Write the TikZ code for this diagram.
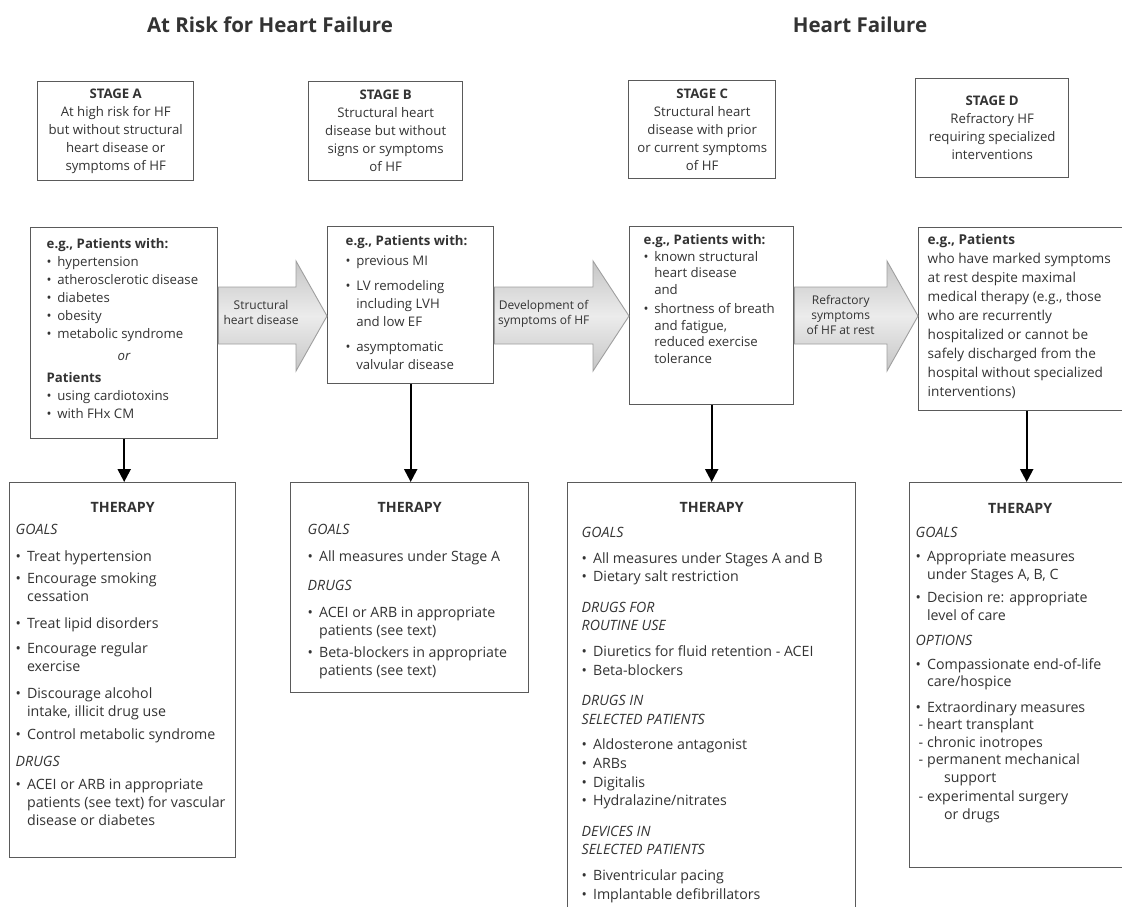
\documentclass[tikz,border=0pt]{standalone}
\usepackage{fontspec}
\setmainfont{Open Sans}
\usetikzlibrary{arrows.meta,calc}
\definecolor{bordergray}{HTML}{5A5A5A}
\definecolor{textgray}{HTML}{333333}
\newcommand{\cbx}[5]{\begin{minipage}[c][#2pt][t]{#1pt}\raggedright\setlength{\leftskip}{#3pt}\setlength{\parindent}{0pt}\vspace*{#4pt}#5\end{minipage}}
\newcommand{\itm}[1]{\par\hangindent=0.8em\hangafter=1\noindent\makebox[0.8em][l]{\textbullet}#1\par}
\newcommand{\dsh}[1]{\par\hangindent=2em\hangafter=1\noindent\hspace*{0.2em}\makebox[0.6em][l]{-}#1\par}
\newcommand{\hdg}[1]{\par\noindent\textit{#1}\par}
\newcommand{\vsp}[1]{\vspace{#1pt}}
\newcommand{\thr}{{\centering\textbf{THERAPY}\par}}
\begin{document}
\begin{tikzpicture}[x=1pt,y=-1pt,
 box/.style={draw=bordergray,line width=1.4pt,inner sep=0pt,anchor=north west,text=textgray},
 stagebox/.style={box,align=center,font=\fontsize{13.2}{18}\selectfont},
 ptxt/.style={font=\fontsize{13.2}{18}\selectfont},
 ttxt/.style={font=\fontsize{14.2}{18}\selectfont},
 title/.style={font=\fontsize{20.5}{22}\selectfont\bfseries,text=textgray},
 blockarrow/.style={draw=gray!75,line width=0.9pt,top color=gray!45,bottom color=gray!45,middle color=gray!15},
 arrlabel/.style={font=\fontsize{12}{15}\selectfont,align=center,text=textgray},
 down/.style={line width=2.2pt,draw=black,-{Triangle[length=13pt,width=13pt]}}
]
\useasboundingbox[fill=white] (0,0) rectangle (1122,907);

% titles
\node[title] (tA) at (270,25) {At Risk for Heart Failure};
\node[title] (tB) at (860,25) {Heart Failure};

% stage boxes
\node[stagebox,minimum width=156pt,minimum height=99pt] (stA) at (37,81)
 {\textbf{STAGE A}\\At high risk for HF\\but without structural\\heart disease or\\symptoms of HF};
\node[stagebox,minimum width=154pt,minimum height=99pt] (stB) at (308,81)
 {\textbf{STAGE B}\\Structural heart\\disease but without\\signs or symptoms\\of HF};
\node[stagebox,minimum width=147pt,minimum height=98pt] (stC) at (628,80)
 {\textbf{STAGE C}\\Structural heart\\disease with prior\\or current symptoms\\of HF};
\node[stagebox,minimum width=153pt,minimum height=99pt] (stD) at (915,78)
 {\textbf{STAGE D}\\Refractory HF\\requiring specialized\\interventions};

% patient boxes
\node[box,ptxt] (patA) at (30,227) {\cbx{187}{211}{16}{11}{%
 \textbf{e.g., Patients with:}
 \itm{hypertension}
 \itm{atherosclerotic disease}
 \itm{diabetes}
 \itm{obesity}
 \itm{metabolic syndrome}
 \vsp{4}{\centering\textit{or}\par}\vsp{4}
 \textbf{Patients}
 \itm{using cardiotoxins}
 \itm{with FHx CM}}};
\node[box,ptxt] (patB) at (327,226) {\cbx{166}{157}{18}{9}{%
 \textbf{e.g., Patients with:}
 \vsp{2}\itm{previous MI}
 \vsp{7}\itm{LV remodeling\newline including LVH\newline and low EF}
 \vsp{7}\itm{asymptomatic\newline valvular disease}}};
\node[box,ptxt] (patC) at (629,226) {\cbx{164}{178}{14}{8}{\fontsize{13.2}{16.5}\selectfont
 \textbf{e.g., Patients with:}
 \itm{known structural\newline heart disease\newline and}
 \vsp{3}\itm{shortness of breath\newline and fatigue,\newline reduced exercise\newline tolerance}}};
\node[box,ptxt] (patD) at (918,227) {\cbx{212}{183}{9}{6}{\fontsize{13.6}{19}\selectfont
 \textbf{e.g., Patients}\\
 who have marked symptoms\\at rest despite maximal\\medical therapy (e.g., those\\who are recurrently\\hospitalized or cannot be\\safely discharged from the\\hospital without specialized\\interventions)}};

% therapy boxes
\node[box,ttxt] (thA) at (9,482) {\cbx{226}{375}{6}{20}{%
 \thr\vsp{4}
 \hdg{GOALS}
 \vsp{9}\itm{Treat hypertension}
 \vsp{4}\itm{Encourage smoking\newline cessation}
 \vsp{9}\itm{Treat lipid disorders}
 \vsp{7}\itm{Encourage regular\newline exercise}
 \vsp{9}\itm{Discourage alcohol\newline intake, illicit drug use}
 \vsp{5}\itm{Control metabolic syndrome}
 \vsp{9}\hdg{DRUGS}
 \vsp{5}\itm{ACEI or ARB in appropriate\newline patients (see text) for vascular\newline disease or diabetes}}};
\node[box,ttxt] (thB) at (290,482) {\cbx{238}{210}{17}{20}{%
 \thr\vsp{4}
 \hdg{GOALS}
 \vsp{9}\itm{All measures under Stage A}
 \vsp{11}\hdg{DRUGS}
 \vsp{9}\itm{ACEI or ARB in appropriate\newline patients (see text)}
 \vsp{4}\itm{Beta-blockers in appropriate\newline patients (see text)}}};
\node[box,ttxt] (thC) at (567,482) {\cbx{288}{440}{14}{20}{\fontsize{14.2}{18.6}\selectfont
 \thr\vsp{6}
 \hdg{GOALS}
 \vsp{7}\itm{All measures under Stages A and B}
 \itm{Dietary salt restriction}
 \vsp{12}\hdg{DRUGS FOR\\ROUTINE USE}
 \vsp{7}\itm{Diuretics for fluid retention - ACEI}
 \itm{Beta-blockers}
 \vsp{12}\hdg{DRUGS IN\\SELECTED PATIENTS}
 \vsp{7}\itm{Aldosterone antagonist}
 \itm{ARBs}
 \itm{Digitalis}
 \itm{Hydralazine/nitrates}
 \vsp{12}\hdg{DEVICES IN\\SELECTED PATIENTS}
 \vsp{7}\itm{Biventricular pacing}
 \itm{Implantable defibrillators}}};
\node[box,ttxt] (thD) at (909,482) {\cbx{221}{385}{6}{21}{\fontsize{14.2}{17.5}\selectfont
 \thr\vsp{6}
 \hdg{GOALS}
 \vsp{7}\itm{Appropriate measures\newline under Stages A, B, C}
 \vsp{6}\itm{Decision re: appropriate\newline level of care}
 \vsp{8}\hdg{OPTIONS}
 \vsp{6}\itm{Compassionate end-of-life\newline care/hospice}
 \vsp{8}\itm{Extraordinary measures}
 \dsh{heart transplant}
 \dsh{chronic inotropes}
 \dsh{permanent mechanical\newline support}
 \vsp{2}\dsh{experimental surgery\newline or drugs}}};

% block arrows
\coordinate (s1) at (0,287);
\coordinate (s2) at (0,344);
\coordinate (h1) at (0,261);
\coordinate (h2) at (0,371);
\coordinate (tp) at (0,316);

\coordinate (hb1) at ($(patB.west |- tp)+(-31,0)$);
\coordinate (hb2) at ($(patC.west |- tp)+(-36,0)$);
\coordinate (hb3) at ($(patD.west |- tp)+(-31,0)$);

\path[blockarrow] (patA.east |- s1) -- (hb1 |- s1) -- (hb1 |- h1) -- (patB.west |- tp)
  -- (hb1 |- h2) -- (hb1 |- s2) -- (patA.east |- s2) -- cycle;
\path[blockarrow] (patB.east |- s1) -- (hb2 |- s1) -- (hb2 |- h1) -- (patC.west |- tp)
  -- (hb2 |- h2) -- (hb2 |- s2) -- (patB.east |- s2) -- cycle;
\path[blockarrow] (patC.east |- s1) -- (hb3 |- s1) -- (hb3 |- h1) -- (patD.west |- tp)
  -- (hb3 |- h2) -- (hb3 |- s2) -- (patC.east |- s2) -- cycle;

\node[arrlabel] (lab1) at ($(patA.east |- tp)!0.55!(hb1)+(0,-4)$) {Structural\\heart disease};
\node[arrlabel] (lab2) at ($(patB.east |- tp)!0.5!(hb2)+(0,-2)$) {Development of\\symptoms of HF};
\node[arrlabel] (lab3) at ($(patC.east |- tp)!0.5!(hb3)+(0,-1)$) {Refractory\\symptoms\\of HF at rest};

% down arrows
\draw[down] (patA.south) -- (patA.south |- thA.north);
\draw[down] (patB.south) -- (patB.south |- thB.north);
\draw[down] (patC.south) -- (patC.south |- thC.north);
\draw[down] ($(patD.south)+(2,0)$) -- ($(patD.south |- thD.north)+(2,0)$);
\end{tikzpicture}
\end{document}
